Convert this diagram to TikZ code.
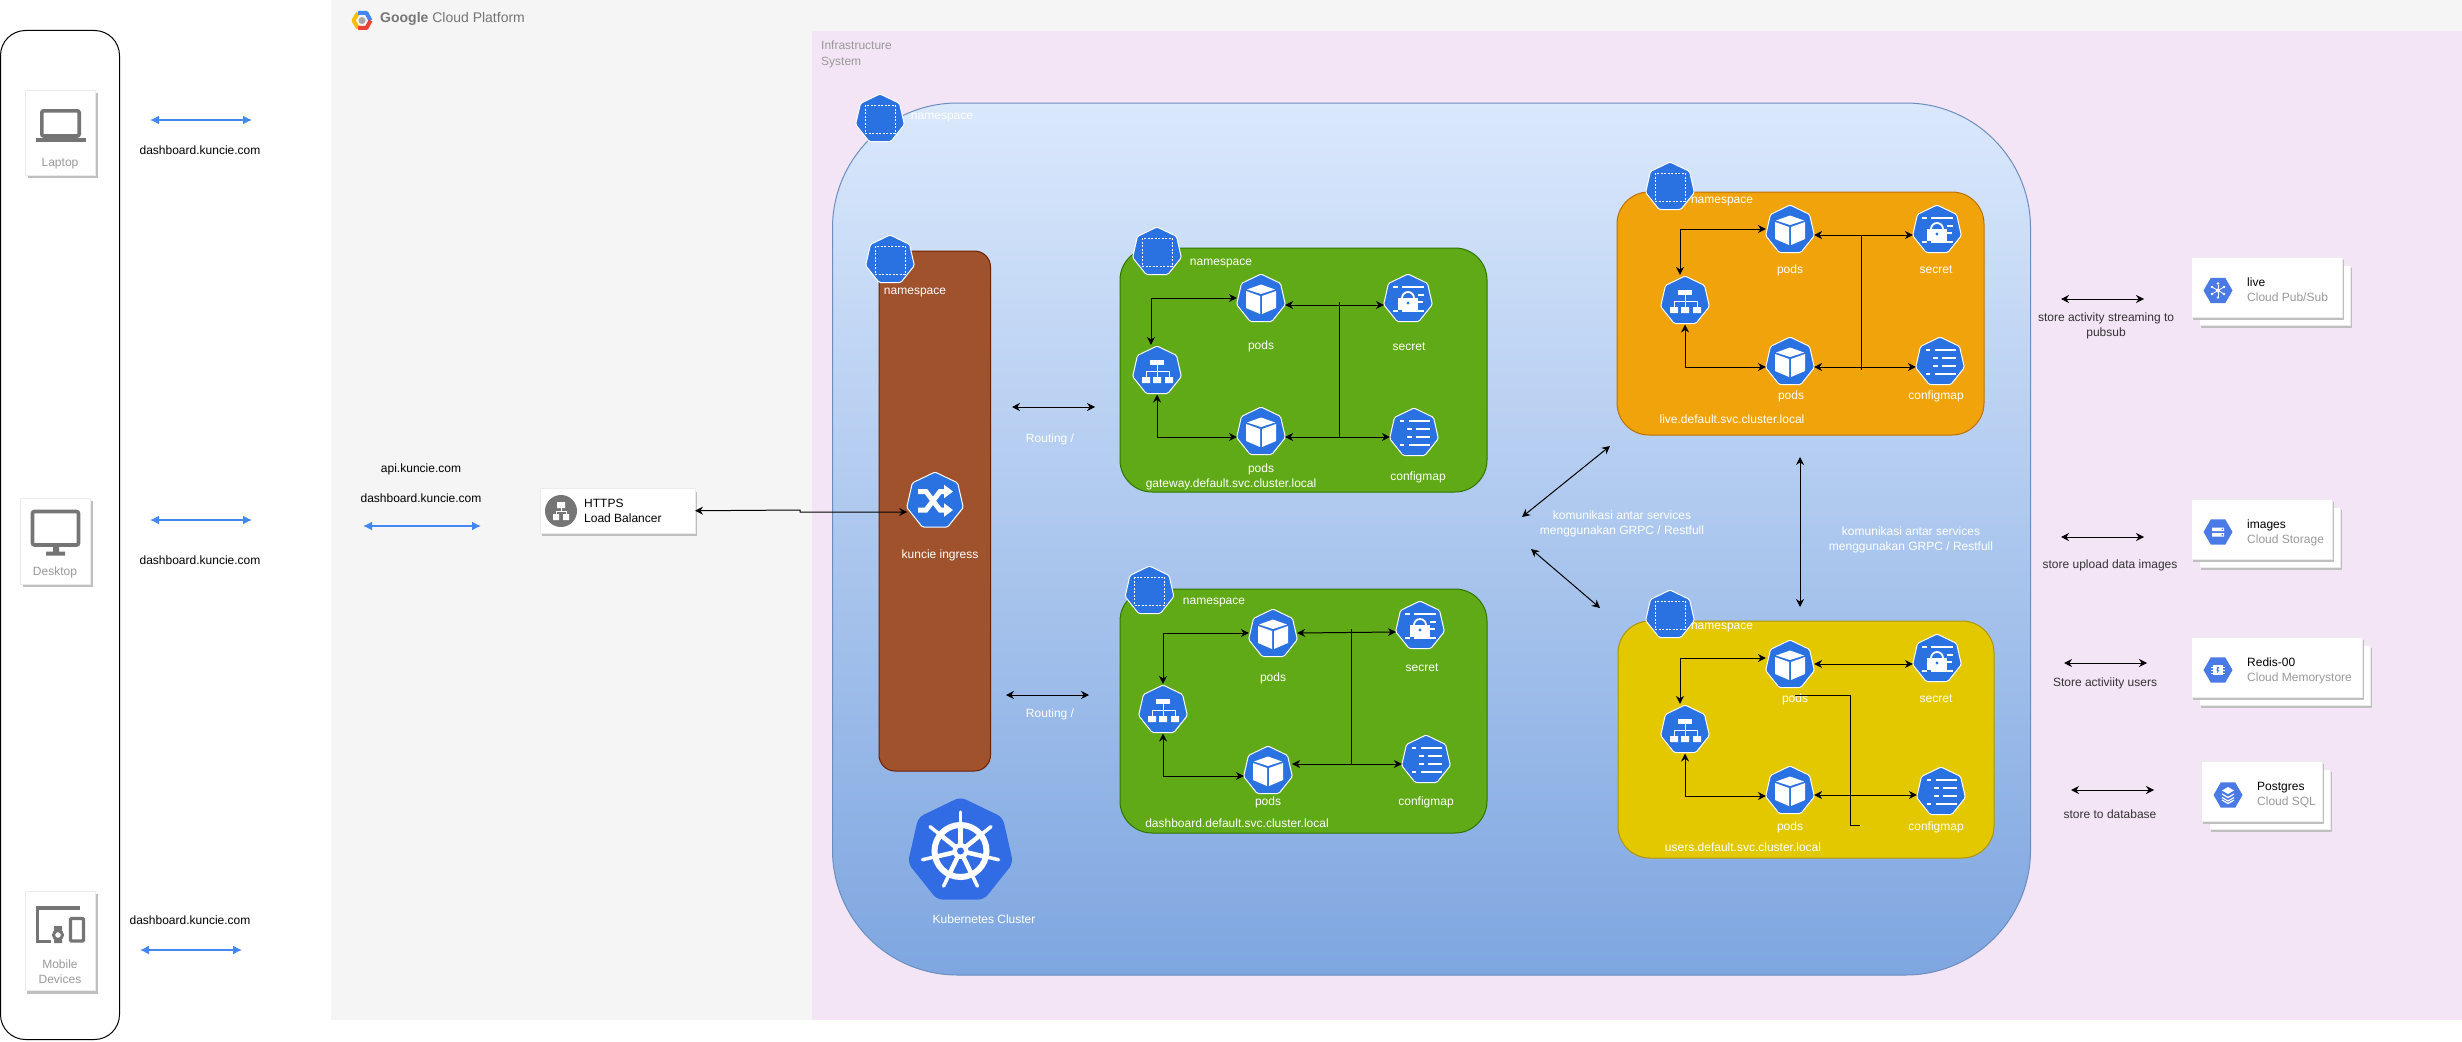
\documentclass[tikz,border=0pt]{standalone}
\usepackage{fontspec}
\setmainfont{Liberation Sans}
\usetikzlibrary{arrows.meta, positioning, calc, shapes.geometric, shadows}
\definecolor{k8sblue}{RGB}{42, 114, 226}
\definecolor{wheelblue}{RGB}{50, 108, 229}
\definecolor{gcpblue}{RGB}{74, 122, 230}
\definecolor{iconblue}{RGB}{66, 133, 244}
\definecolor{cardgrey}{RGB}{117, 117, 117}
\definecolor{sublabel}{RGB}{153, 153, 153}
\definecolor{infrafill}{RGB}{243, 229, 245}
\definecolor{clusterline}{RGB}{108, 142, 191}
\definecolor{clustertop}{RGB}{218, 232, 252}
\definecolor{clusterbot}{RGB}{126, 166, 224}
\definecolor{ingressfill}{RGB}{160, 82, 45}
\definecolor{ingressline}{RGB}{109, 31, 0}
\definecolor{greenfill}{RGB}{96, 169, 23}
\definecolor{greenline}{RGB}{45, 118, 0}
\definecolor{orangefill}{RGB}{240, 163, 10}
\definecolor{orangeline}{RGB}{189, 112, 0}
\definecolor{yellowfill}{RGB}{227, 200, 0}
\definecolor{yellowline}{RGB}{176, 149, 0}
\definecolor{logoyellow}{RGB}{251, 188, 5}
\definecolor{logored}{RGB}{234, 67, 53}
\newcommand{\labelsize}{\fontsize{12}{15}\selectfont}

\tikzset{
    panel/.style={anchor=north west, inner sep=0pt, outer sep=0pt},
    nsbox/.style={panel, rounded corners=32pt, line width=1pt},
    txt/.style={font=\labelsize, inner sep=0pt, align=center, text=black},
    wtxt/.style={txt, text=white},
    greytxt/.style={txt, text=sublabel},
    conn/.style={<->, >={Stealth[length=8pt,width=8pt]}, line width=1pt},
    bluearr/.style={<->, >={Latex[length=9pt,width=9pt]}, draw=iconblue, line width=1.6pt},
    card/.style={panel, draw=black!8, fill=white, line width=.8pt, drop shadow={shadow xshift=2pt, shadow yshift=-3pt, fill=black!25, opacity=1}},
    glyph/.style={shift={(path picture bounding box.center)}, sharp corners, white, line width=1pt},
    khex/.style={regular polygon, regular polygon sides=7, minimum size=50pt, inner sep=0pt, outer sep=1pt, yshift=-1pt, fill=k8sblue, draw=white, line width=1pt, rounded corners=1.5pt},
    ghex/.style={regular polygon, regular polygon sides=6, minimum size=29pt, inner sep=0pt, fill=gcpblue},
    % kubernetes icons, one style for each kind
    kns/.style={khex, path picture={\begin{scope}[glyph]
        \draw[dash pattern=on 2pt off 1.5pt] (-15,-14) rectangle (15,14);
    \end{scope}}},
    kpod/.style={khex, path picture={\begin{scope}[glyph]
        \fill (-14,-9.5) -- (0,-14.5) -- (14,-9.5) -- (0,-5) -- cycle;
        \fill (-15,-8) -- (-1,-3) -- (-1,15) -- (-15,9) -- cycle;
        \fill (1,-3) -- (15,-8) -- (15,9) -- (1,15) -- cycle;
    \end{scope}}},
    ksecret/.style={khex, path picture={\begin{scope}[glyph, line width=1.8pt]
        \draw (-15,-12) -- (-10,-12) (-6,-12) -- (16,-12);
        \draw (-15,12) -- (-10,12) (-6,12) -- (16,12);
        \draw (10,-4) -- (16,-4) (10,3) -- (15,3);
        \draw (-6,-1) arc[start angle=180, end angle=360, radius=6];
        \fill (-10,-1) rectangle (10,11);
        \fill[k8sblue] (0,4) circle (1.6);
    \end{scope}}},
    kconfig/.style={khex, path picture={\begin{scope}[glyph, line width=1.8pt]
        \draw (-14,-12) -- (-10,-12) (-5,-12) -- (16,-12);
        \draw (-7,-4) -- (-2,-4) (2,-4) -- (16,-4);
        \draw (-7,4) -- (-2,4) (2,4) -- (16,4);
        \draw (-14,12) -- (-10,12) (-5,12) -- (16,12);
    \end{scope}}},
    ksvc/.style={khex, path picture={\begin{scope}[glyph]
        \fill (-7,-11) rectangle (7,-6);
        \fill (-15,6) rectangle (-7,12) (-4,6) rectangle (4,12) (8,6) rectangle (16,12);
        \draw (0,-6) -- (0,6) (-11,6) -- (-11,0) -- (12,0) -- (12,6);
    \end{scope}}},
    kingress/.style={khex, minimum size=58pt, path picture={\begin{scope}[glyph, line width=5pt]
        \draw[-{Triangle[length=9pt,width=13pt]}] (-17,-9.5) -- (-9,-9.5) -- (5,9) -- (18,9);
        \draw[-{Triangle[length=9pt,width=13pt]}] (-17,9) -- (-9,9) -- (5,-9.5) -- (18,-9.5);
    \end{scope}}},
    kwheel/.style={khex, draw=none, minimum size=108pt, rounded corners=6pt, fill=wheelblue, path picture={\begin{scope}[glyph, line cap=round]
        \draw[line width=6pt] (0,0) circle (26);
        \foreach \a in {90,141.4,192.9,244.3,295.7,347.1,38.6} {
            \draw[line width=3.5pt] (0,0) -- (\a:-39);
            \draw[line width=4.5pt] (0,0) -- (\a:-26);
        }
        \fill (0,0) circle (8);
        \fill[wheelblue] (0,0) circle (3.5);
    \end{scope}}},
    % gcp products
    gpubsub/.style={ghex, path picture={\begin{scope}[glyph, line width=.8pt]
        \foreach \a in {30,90,...,330} { \draw (0,0) -- (\a:6); \fill (\a:7) circle (1.4); }
        \fill (0,0) circle (2);
    \end{scope}}},
    gstorage/.style={ghex, path picture={\begin{scope}[glyph]
        \fill (-6,-4.5) rectangle (6,-1) (-6,1) rectangle (6,4.5);
        \fill[gcpblue] (3.5,-3.5) rectangle (5,-2) (3.5,2) rectangle (5,3.5);
    \end{scope}}},
    gredis/.style={ghex, path picture={\begin{scope}[glyph, line width=.8pt]
        \fill (-5,-5) rectangle (5,5);
        \foreach \yy in {-3,0,3} { \draw (-7,\yy) -- (7,\yy); }
        \fill[gcpblue] (-1,-3) -- (1,-3) -- (0,0) -- (1.5,0) -- (-1,3.5) -- (-.5,.8) -- (-1.5,.8) -- cycle;
    \end{scope}}},
    gsql/.style={ghex, path picture={\begin{scope}[glyph]
        \fill (0,-8) -- (6,-4.5) -- (0,-1) -- (-6,-4.5) -- cycle;
        \draw[line width=1.2pt] (-6,-1) -- (0,2.5) -- (6,-1) (-6,2.5) -- (0,6) -- (6,2.5) (-6,5) -- (0,8.5) -- (6,5);
    \end{scope}}},
}

\begin{document}
\begin{tikzpicture}[x=1pt, y=-1pt]
    \useasboundingbox (0,0) rectangle (2462,1041);

    % Panels
    \node[panel, fill=black!4, minimum width=2131, minimum height=1020] (gcp) at (331,0) {};
    \node[panel, fill=white, draw=black, line width=1pt, rounded corners=25pt, minimum width=119, minimum height=1009] (devices) at (.5,30.5) {};
    \node[panel, fill=infrafill, minimum width=1650, minimum height=989] (infra) at (812,31) {};
    \node[panel, rounded corners=125pt, draw=clusterline, line width=1pt, top color=clustertop, bottom color=clusterbot,
        minimum width=1198, minimum height=872] (cluster) at (832.5,103) {};

    % Google Cloud logo
    \begin{scope}[shift={(362,20.5)}, line width=4pt, line join=round]
        \draw[logoyellow] (-4,7.5) -- (-8.5,0) -- (-4,-7.5);
        \draw[iconblue] (-4,-7.5) -- (4.5,-7.5) -- (8.5,0);
        \draw[logored] (8.5,0) -- (4.5,7.5) -- (-4,7.5);
        \fill[black!35] (0,0) circle (3.5);
    \end{scope}
    \node[txt, anchor=west, font=\fontsize{14}{16}\selectfont, text=cardgrey] (gcptitle) at (380,19) {\textbf{Google} Cloud Platform};
    \node[greytxt, anchor=north west, align=left, font=\fontsize{12}{15.5}\selectfont] (infratitle) at (821,41) {Infrastructure\\System};

    % Client devices
    \node[card, minimum width=70, minimum height=85] (laptop) at (25.5,90) {};
    \draw[cardgrey, line width=3.6pt, rounded corners=2pt] (41.8,110.8) rectangle (79.2,136);
    \fill[cardgrey] (35.5,137.5) rectangle (86,142);
    \node[greytxt] (laptoptxt) at (60,164) {Laptop};

    \node[card, minimum width=70, minimum height=86] (desktop) at (20.5,498) {};
    \draw[cardgrey, line width=3.6pt, rounded corners=2pt] (32.5,511.5) rectangle (78.5,545);
    \fill[cardgrey] (53,546) rectangle (59,552) (46,551.5) rectangle (65,555.5);
    \node[greytxt] (desktoptxt) at (55,572) {Desktop};

    \node[card, minimum width=70.5, minimum height=99.5] (mobile) at (25,891) {};
    \draw[cardgrey, line width=3.4pt] (80,908) -- (37.5,908) -- (37.5,941.5) -- (51,941.5);
    \draw[cardgrey, line width=3.4pt, rounded corners=1pt] (70.5,918.5) rectangle (83.5,941);
    \draw[cardgrey, line width=3pt] (58,935) circle (4.5);
    \fill[cardgrey] (54,926) rectangle (62,930) (54,940) rectangle (62,943);
    \node[greytxt] (mobiletxt) at (60,971.5) {Mobile\\Devices};

    % Domain arrows and labels
    \foreach \nm/\xa/\xb/\yy in {laptop/150/252/120, desktop/150/252/520, lbin/363/481/526, mobile/140/242/950} {
        \coordinate (\nm a) at (\xa,\yy);
        \coordinate (\nm b) at (\xb,\yy);
        \draw[bluearr] (\nm a) -- (\nm b);
    }
    \foreach \nm/\px/\py/\lbl in {dlaptop/200/150/dashboard.kuncie.com, ddesktop/200/560/dashboard.kuncie.com,
            dmobile/190/920/dashboard.kuncie.com, dapi/421/469/api.kuncie.com, dlb/421/498/dashboard.kuncie.com} {
        \node[txt] (\nm) at (\px,\py) {\lbl};
    }

    % Load balancer
    \node[card, minimum width=155, minimum height=44.5] (lb) at (540,488.5) {};
    \node[circle, fill=cardgrey, minimum size=32pt, inner sep=0pt] (lbicon) at (561,511) {};
    \fill[white] (557,502) rectangle (565,508) (553,514) rectangle (559,520) (563,514) rectangle (569,520);
    \draw[white, line width=1pt] (561,507) -- (561,511) (556,514) -- (556,511) -- (566,511) -- (566,514);
    \node[txt, anchor=west, align=left] (lbtxt) at (584,511) {HTTPS\\Load Balancer};

    % Namespace boxes
    \node[nsbox, rounded corners=16pt, fill=ingressfill, draw=ingressline, minimum width=111.5, minimum height=520] (ingressbox) at (879,251) {};
    \node[nsbox, fill=greenfill, draw=greenline, minimum width=367, minimum height=244] (gwbox) at (1120,248) {};
    \node[nsbox, fill=greenfill, draw=greenline, minimum width=367, minimum height=244] (dashbox) at (1120,589) {};
    \node[nsbox, fill=orangefill, draw=orangeline, minimum width=367, minimum height=243] (livebox) at (1617,192) {};
    \node[nsbox, fill=yellowfill, draw=yellowline, minimum width=376, minimum height=237] (usersbox) at (1618,621) {};

    % Icons
    \foreach \nm/\px/\py/\kind in {clusterns/880/118/kns, ingressns/890/259/kns, ingress/935/500/kingress, wheel/960.5/850/kwheel,
            gwns/1157/251/kns, gwpoda/1261/298/kpod, gwsecret/1408/298/ksecret, gwsvc/1157/370/ksvc, gwpodb/1261/431/kpod, gwconfig/1414/432/kconfig,
            dashns/1149.5/590/kns, dashpoda/1273/633/kpod, dashsecret/1420/625/ksecret, dashsvc/1163/709/ksvc, dashpodb/1268/770/kpod, dashconfig/1426/759/kconfig,
            livens/1670/186/kns, livepoda/1790/229/kpod, livesecret/1937/229/ksecret, livesvc/1685/300/ksvc, livepodb/1790/361/kpod, liveconfig/1940/361/kconfig,
            usersns/1670/614/kns, userspoda/1790/664/kpod, userssecret/1937/658/ksecret, userssvc/1685/729/ksvc, userspodb/1790/790/kpod, usersconfig/1941/791/kconfig} {
        \node[\kind] (\nm) at (\px,\py) {};
    }

    % White labels
    \foreach \nm/\px/\py/\lbl in {t1/942/118/namespace, t2/915/293/namespace, t3/940/555/kuncie ingress, t4/984/919/Kubernetes Cluster,
            r1/1050/439/{Routing /}, r2/1050/714/{Routing /},
            t5/1221/264/namespace, t6/1261/346/pods, t7/1409/347/secret, t8/1261/469/pods, t9/1418/477/configmap, t10/1231/484/gateway.default.svc.cluster.local,
            t11/1214/603/namespace, t12/1273/678/pods, t13/1422/668/secret, t14/1268/802/pods, t15/1426/802/configmap, t16/1237/823/dashboard.default.svc.cluster.local,
            t17/1722/202/namespace, t18/1790/270/pods, t19/1936/270/secret, t20/1791/396/pods, t21/1936/396/configmap, t22/1732/419/live.default.svc.cluster.local,
            t23/1722/628/namespace, t24/1795/699/pods, t25/1936/699/secret, t26/1790/827/pods, t27/1936/827/configmap, t28/1743/847/users.default.svc.cluster.local} {
        \node[wtxt] (\nm) at (\px,\py) {\lbl};
    }
    \node[wtxt] (komleft) at (1622,524) {komunikasi antar services\\menggunakan GRPC / Restfull};
    \node[wtxt] (komright) at (1911,540) {komunikasi antar services\\menggunakan GRPC / Restfull};

    % Connectors inside namespaces
    \draw[conn] ([xshift=-6pt]gwsvc.north) |- ([yshift=1pt]gwpoda.west);
    \draw[conn] (gwsvc.south) |- ([yshift=-5pt]gwpodb.west);
    \draw[conn] ([yshift=-6pt]gwpoda.east) -- ([yshift=-6pt]gwsecret.west);
    \draw[conn] ([yshift=-5pt]gwpodb.east) -- ([yshift=-4pt]gwconfig.west);
    \coordinate (gwtop) at (1339,302);
    \coordinate (gwbot) at (1339,437);
    \draw[line width=1pt] (gwtop) -- (gwbot);

    \draw[conn] (dashsvc.north) |- ([yshift=1pt]dashpoda.west);
    \draw[conn] (dashsvc.south) |- ([yshift=-5pt]dashpodb.west);
    \draw[conn] ([yshift=1pt]dashpoda.east) -- ([yshift=-6pt]dashsecret.west);
    \draw[conn] ([yshift=7pt]dashpodb.east) -- ([yshift=-4pt]dashconfig.west);
    \coordinate (dashtop) at (1351,629);
    \coordinate (dashbot) at (1351,764);
    \draw[line width=1pt] (dashtop) -- (dashbot);

    \draw[conn] ([xshift=-5pt]livesvc.north) |- ([yshift=1pt]livepoda.west);
    \draw[conn] (livesvc.south) |- ([yshift=-5pt]livepodb.west);
    \draw[conn] ([yshift=-5pt]livepoda.east) -- ([yshift=-5pt]livesecret.west);
    \draw[conn] ([yshift=-5pt]livepodb.east) -- ([yshift=-5pt]liveconfig.west);
    \coordinate (livetop) at (1861,235);
    \coordinate (livebot) at (1861,370);
    \draw[line width=1pt] (livetop) -- (livebot);

    \draw[conn] ([xshift=-5pt]userssvc.north) |- ([yshift=7pt]userspoda.west);
    \draw[conn] (userssvc.south) |- ([yshift=-5pt]userspodb.west);
    \draw[conn] ([yshift=1pt]userspoda.east) -- ([yshift=-5pt]userssecret.west);
    \draw[conn] ([yshift=-4pt]userspodb.east) -- ([yshift=-3pt]usersconfig.west);
    \coordinate (userslinea) at (1795,695);
    \coordinate (userslineb) at (1860,825);
    \draw[line width=1pt] (userslinea) -- (1850,695) -- (1850,825) -- (userslineb);

    % Connectors between namespaces
    \draw[conn] (lb.east) -- (800,510) -- (800,512) -- ([yshift=-11pt]ingress.west);
    \foreach \nm/\xa/\ya/\xb/\yb in {routegw/1012/407/1095/407, routedash/1006/695/1089/695, komlive/1522/517/1610/446, komusers/1531/549/1600/608,
            kommid/1800/457/1800/607, store/2061/299/2144/299, storeb/2061/537/2144/537, storec/2064/663/2147/663, stored/2071/790/2154/790} {
        \coordinate (\nm a) at (\xa,\ya);
        \coordinate (\nm b) at (\xb,\yb);
        \draw[conn] (\nm a) -- (\nm b);
    }

    % Google cloud products
    \foreach \nm/\px/\py/\cw in {pubsub/2191/257/151, gcs/2191/499/141, redis/2191/637/171, sql/2201/761/121} {
        \node[card, minimum width=\cw, minimum height=60] (\nm back) at (\px+8,\py+8) {};
        \node[card, minimum width=\cw, minimum height=60] (\nm) at (\px,\py) {};
    }
    \node[gpubsub] (pubsubicon) at (2218,290.5) {};
    \node[gstorage] (gcsicon) at (2218,532) {};
    \node[gredis] (redisicon) at (2218,670) {};
    \node[gsql] (sqlicon) at (2228,795) {};
    \node[txt, anchor=west, align=left] (pubsubtxt) at (2247,290) {live\\\textcolor{sublabel}{Cloud Pub/Sub}};
    \node[txt, anchor=west, align=left] (gcstxt) at (2247,532.5) {images\\\textcolor{sublabel}{Cloud Storage}};
    \node[txt, anchor=west, align=left] (redistxt) at (2247,670.5) {Redis-00\\\textcolor{sublabel}{Cloud Memorystore}};
    \node[txt, anchor=west, align=left] (sqltxt) at (2257,794.5) {Postgres\\\textcolor{sublabel}{Cloud SQL}};

    \node[txt, text=black!80] (pubsublbl) at (2106,325.5) {store activity streaming to\\pubsub};
    \node[txt, text=black!80] (gcslbl) at (2110,565) {store upload data images};
    \node[txt, text=black!80] (redislbl) at (2105,683) {Store activiity users};
    \node[txt, text=black!80] (sqllbl) at (2110,814) {store to database};
\end{tikzpicture}
\end{document}
